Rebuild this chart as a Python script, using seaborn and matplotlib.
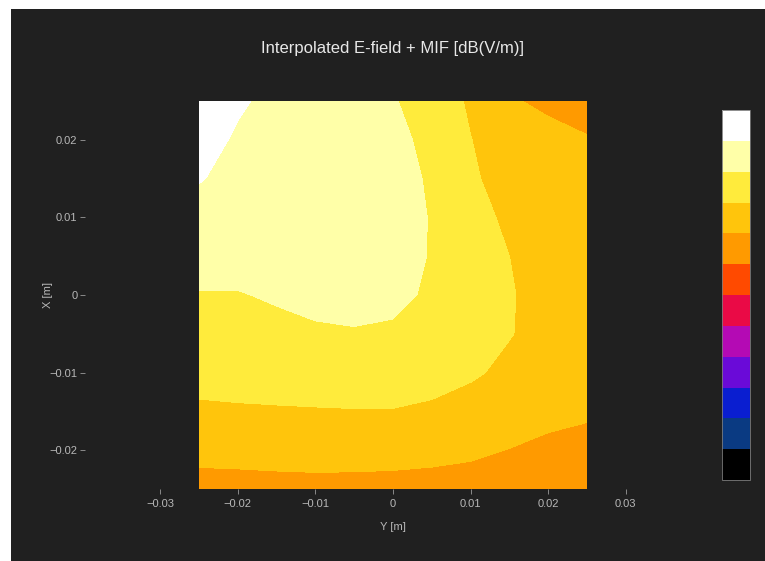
"""
Interpolated E-field + MIF map, filled contour on a dark background.
"""

import numpy as np
import matplotlib
matplotlib.use("Agg")
import matplotlib.pyplot as plt
from matplotlib.patches import Rectangle
import seaborn as sns

# Grid positions (m): horizontal axis is Y, vertical axis is X
y_pos = [-0.025, -0.02, -0.015, -0.01, -0.005, 0.0, 0.005, 0.01, 0.015, 0.02, 0.025]
x_pos = [0.025, 0.02, 0.015, 0.01, 0.005, 0.0, -0.005, -0.01, -0.015, -0.02, -0.025]

# Field values [dB(V/m)] per X row, left to right along Y
row_x_p025 = [118.0, 115.5, 114.0, 113.0, 112.0, 110.3, 108.0, 104.3, 100.5, 99.0, 98.0]
row_x_p020 = [116.5, 114.5, 113.5, 113.0, 112.0, 111.0, 109.0, 105.1, 102.5, 101.5, 100.3]
row_x_p015 = [115.3, 113.5, 113.0, 112.5, 112.0, 111.5, 109.5, 105.7, 103.0, 102.0, 101.0]
row_x_p010 = [113.0, 112.5, 112.5, 112.3, 112.0, 111.5, 109.8, 106.5, 104.2, 103.0, 102.0]
row_x_p005 = [111.5, 111.5, 111.8, 112.0, 112.0, 111.3, 109.8, 107.0, 105.0, 103.5, 102.5]
row_x_000 = [109.8, 109.8, 110.4, 111.0, 111.3, 110.8, 109.5, 107.0, 105.3, 103.5, 102.5]
row_x_m005 = [108.5, 108.5, 109.0, 109.5, 109.7, 109.5, 108.5, 106.5, 105.2, 103.5, 102.5]
row_x_m010 = [106.5, 106.7, 107.0, 107.3, 107.5, 107.3, 106.8, 105.6, 104.0, 103.0, 102.0]
row_x_m015 = [104.3, 104.5, 104.6, 104.7, 104.8, 104.8, 104.2, 103.2, 102.0, 101.2, 100.6]
row_x_m020 = [101.2, 101.3, 101.5, 101.6, 101.5, 101.3, 101.0, 100.6, 99.9, 99.0, 98.5]
row_x_m025 = [98.5, 98.6, 98.7, 98.8, 98.8, 98.8, 98.7, 98.5, 98.2, 97.8, 97.2]

# Contour levels and their fill colours (low to high)
levels = [60, 65, 70, 75, 80, 85, 90, 95, 100, 105, 110, 115, 120]
level_colors = ["#000000", "#0a3a82", "#0a1ed0", "#6a0ad8", "#b40ab4", "#ea0a46",
                "#ff4a00", "#ff9a00", "#ffc50c", "#ffeb3c", "#ffffa8", "#ffffff"]

x_ticks = [-0.03, -0.02, -0.01, 0, 0.01, 0.02, 0.03]
y_ticks = [-0.02, -0.01, 0, 0.01, 0.02]

BG = "#202020"
TXT = "#b8b8b8"

sns.set_theme(style="dark")
plt.rcParams["font.family"] = ["Liberation Sans", "DejaVu Sans"]


def tick_text(v):
    if v == 0:
        return "0"
    return f"{v:.2f}".replace("-", "\u2212")


def main():
    field = np.array([row_x_p025, row_x_p020, row_x_p015, row_x_p010, row_x_p005,
                      row_x_000, row_x_m005, row_x_m010, row_x_m015, row_x_m020,
                      row_x_m025])
    gy, gx = np.meshgrid(y_pos, x_pos)

    W, H = 765, 561
    fig = plt.figure(figsize=(W / 100, H / 100), dpi=100, facecolor="white")
    fig.patches.append(Rectangle((11 / W, 0), 1 - 11 / W, (H - 9) / H,
                                 transform=fig.transFigure, facecolor=BG,
                                 edgecolor="none", zorder=-10))

    ax = fig.add_axes([85 / W, (H - 489) / H, 616 / W, 388 / H])
    ax.set_facecolor(BG)
    cs = ax.contourf(gy, gx, field, levels=levels, colors=level_colors)

    ax.set_xlim(-0.0397, 0.0397)
    ax.set_ylim(-0.025, 0.025)
    for s in ax.spines.values():
        s.set_visible(False)

    ax.set_xticks(x_ticks)
    ax.set_xticklabels([tick_text(v) for v in x_ticks])
    ax.set_yticks(y_ticks)
    ax.set_yticklabels([tick_text(v) for v in y_ticks])
    ax.tick_params(axis="both", colors="#8a8a8a", labelcolor=TXT, labelsize=8,
                   length=3.5, width=0.7, direction="out", pad=2)
    ax.tick_params(axis="x", bottom=True, pad=4)
    ax.tick_params(axis="y", left=True)
    ax.grid(False)

    ax.set_xlabel("Y [m]", color=TXT, fontsize=8)
    ax.set_ylabel("X [m]", color=TXT, fontsize=8)
    ax.xaxis.set_label_coords(0.5, -0.085)
    ax.yaxis.set_label_coords(-0.052, 0.5)

    fig.text(393 / W, 1 - 48 / H, "Interpolated E-field + MIF [dB(V/m)]",
             color="#e8e8e8", fontsize=12, ha="center", va="center")

    cax = fig.add_axes([722 / W, (H - 480) / H, 28 / W, 370 / H])
    cb = fig.colorbar(cs, cax=cax)
    cb.set_ticks([])
    cb.outline.set_edgecolor("#7a7a7a")
    cb.outline.set_linewidth(0.6)

    fig.savefig("out.png", dpi=100, facecolor=fig.get_facecolor())


if __name__ == "__main__":
    main()
